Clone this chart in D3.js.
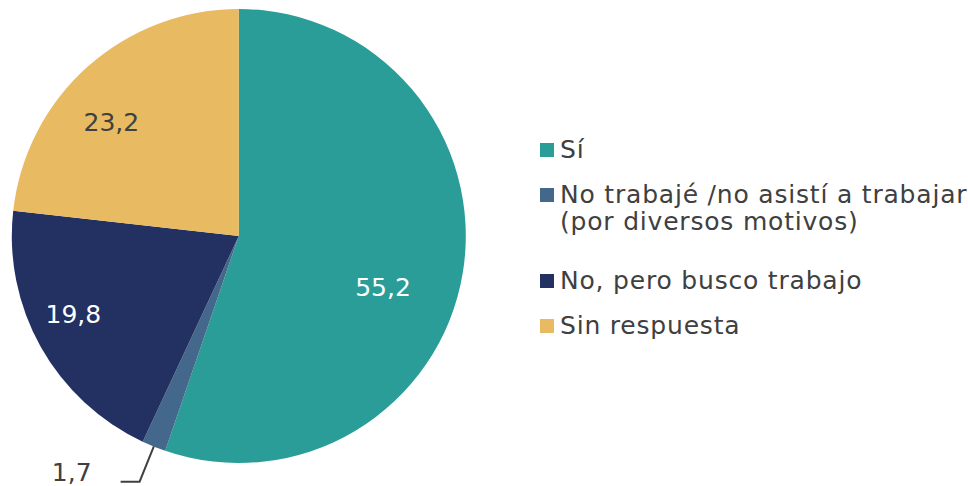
<!DOCTYPE html>
<html>
<head>
<meta charset="utf-8">
<script src="https://cdn.jsdelivr.net/npm/d3@7"></script>
<style>
  html, body { margin: 0; padding: 0; background: #ffffff; }
  svg { display: block; }
  text { font-family: "DejaVu Sans", sans-serif; }
</style>
</head>
<body>
<svg id="chart" width="968" height="486"></svg>
<script>
// Survey answers, percentages
const categories = [
  "Sí",
  "No trabajé /no asistí a trabajar (por diversos motivos)",
  "No, pero busco trabajo",
  "Sin respuesta"
];
const values = [55.2, 1.7, 19.8, 23.2];
const valueLabels = ["55,2", "1,7", "19,8", "23,2"];
const colors = ["#2a9d98", "#44688c", "#223162", "#e8ba62"];
const legendLines = [
  ["Sí"],
  ["No trabajé /no asistí a trabajar", "(por diversos motivos)"],
  ["No, pero busco trabajo"],
  ["Sin respuesta"]
];

const svg = d3.select("#chart");
const cx = 238.8, cy = 236, radius = 227;
const textColor = "#404040";

const pie = d3.pie().sort(null).value(d => d)(values);
const arc = d3.arc().innerRadius(0).outerRadius(radius);

const g = svg.append("g").attr("transform", `translate(${cx},${cy})`);

g.selectAll("path.slice")
  .data(pie)
  .join("path")
  .attr("class", "slice")
  .attr("d", arc)
  .attr("fill", (d, i) => colors[i]);

// Label placement per slice: polar radius and angle shift (deg) from the slice's mid-angle
const placement = [
  { r: 153, shift: 10.1, color: "#ffffff" },
  null,
  { r: 183, shift: 4.0, color: "#ffffff" },
  { r: 171, shift: -6.4, color: textColor }
];

pie.forEach((d, i) => {
  const p = placement[i];
  if (!p) return;
  const mid = (d.startAngle + d.endAngle) / 2 + p.shift * Math.PI / 180;
  const x = p.r * Math.sin(mid);
  const y = -p.r * Math.cos(mid);
  g.append("text")
    .attr("x", x)
    .attr("y", y)
    .attr("text-anchor", "middle")
    .attr("dominant-baseline", "central")
    .attr("font-size", 25)
    .attr("fill", p.color)
    .text(valueLabels[i]);
});

// Small slice: label outside with a leader line
{
  const d = pie[1];
  const outer = d3.arc().innerRadius(radius + 38).outerRadius(radius + 38);
  const edge = d3.arc().innerRadius(radius).outerRadius(radius);
  const a = edge.centroid(d);
  const b = outer.centroid(d);
  const tail = b[0] - 19;
  g.append("path")
    .attr("d", d3.line()([a, b, [tail, b[1]]]))
    .attr("fill", "none")
    .attr("stroke", textColor)
    .attr("stroke-width", 2);
  g.append("text")
    .attr("x", tail - 29)
    .attr("y", b[1] - 1)
    .attr("text-anchor", "end")
    .attr("font-size", 25)
    .attr("fill", textColor)
    .text(valueLabels[1]);
}

// Legend
const legend = svg.append("g").attr("transform", "translate(540,0)");
const baselines = [158, 203, 289, 334];
legendLines.forEach((lines, i) => {
  legend.append("rect")
    .attr("x", 0)
    .attr("y", baselines[i] - 15)
    .attr("width", 14)
    .attr("height", 14)
    .attr("fill", colors[i]);
  const t = legend.append("text")
    .attr("x", 20)
    .attr("y", baselines[i])
    .attr("font-size", 25)
    .attr("letter-spacing", 0.8)
    .attr("fill", textColor);
  lines.forEach((ln, j) => {
    t.append("tspan")
      .attr("x", 20)
      .attr("dy", j === 0 ? 0 : 27)
      .text(ln);
  });
});
</script>
</body>
</html>
